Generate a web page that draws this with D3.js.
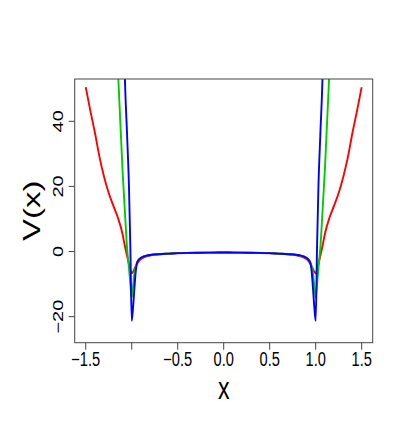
<!DOCTYPE html>
<html>
<head>
<meta charset="utf-8">
<script src="https://cdn.jsdelivr.net/npm/d3@7"></script>
<style>
  html, body { margin: 0; padding: 0; background: #fff; }
  svg { display: block; }
  text { font-family: "Liberation Sans", Arial, sans-serif; fill: #000; }
</style>
</head>
<body>
<script>
// ---- data ----
const xs = [-1.5,-1.45,-1.4,-1.35,-1.3,-1.25,-1.2,-1.15,-1.1,-1.075,-1.05,-1.03,-1.015,-1.0,-0.985,-0.97,-0.955,-0.94,-0.92,-0.9,-0.87,-0.84,-0.8,-0.7,-0.6,-0.5,-0.4,-0.3,-0.2,-0.1,0,
            0.1,0.2,0.3,0.4,0.5,0.6,0.7,0.8,0.84,0.87,0.9,0.92,0.94,0.955,0.97,0.985,1.0,1.015,1.03,1.05,1.075,1.1,1.15,1.2,1.25,1.3,1.35,1.4,1.45,1.5];

const redV = [50.5,43.3,36.5,29.0,22.9,18.0,14.1,10.4,5.4,1.8,-1.4,-3.9,-5.6,-6.7,-6.2,-5.3,-4.5,-3.7,-2.9,-2.3,-1.8,-1.5,-1.2,-0.9,-0.7,-0.55,-0.45,-0.4,-0.35,-0.3,-0.3,
              -0.3,-0.35,-0.4,-0.45,-0.55,-0.7,-0.9,-1.2,-1.5,-1.8,-2.3,-2.9,-3.7,-4.5,-5.3,-6.2,-6.7,-5.6,-3.9,-1.4,1.8,5.4,10.4,14.1,18.0,22.9,29.0,36.5,43.3,50.5];

const greenV = [420,330,260,205,160,122,90,56,25,12.7,0.8,-5.0,-10.0,-14.2,-10.5,-6.6,-4.4,-3.2,-2.4,-1.9,-1.5,-1.3,-1.05,-0.8,-0.65,-0.5,-0.42,-0.38,-0.34,-0.32,-0.3,
                -0.32,-0.34,-0.38,-0.42,-0.5,-0.65,-0.8,-1.05,-1.3,-1.5,-1.9,-2.4,-3.2,-4.4,-6.6,-10.5,-14.2,-10.0,-5.0,0.8,12.7,25,56,90,122,160,205,260,330,420];

const blueV = [2000,1500,1100,800,560,380,250,160,90,54,35.5,20,1.5,-21.3,-17.0,-11.0,-5.8,-3.3,-2.4,-1.9,-1.5,-1.25,-1.05,-0.8,-0.65,-0.5,-0.42,-0.38,-0.34,-0.32,-0.3,
               -0.32,-0.34,-0.38,-0.42,-0.5,-0.65,-0.8,-1.05,-1.25,-1.5,-1.9,-2.4,-3.3,-5.8,-11.0,-17.0,-21.3,1.5,20,35.5,54,90,160,250,380,560,800,1100,1500,2000];

const xTicks = [-1.5,-1.0,-0.5,0.0,0.5,1.0,1.5];
const xTickLabels = ["\u22121.5","","\u22120.5","0.0","0.5","1.0","1.5"];
const yTicks = [-20,0,20,40];
const yTickLabels = ["\u221220","0","20","40"];
const xLabel = "x";
const yLabel = "V(x)";

// ---- layout ----
const W = 409, H = 436;
const L = 74.7, R = 372.7, T = 79, B = 342.7;
const SQ = 0.75; // horizontal text squeeze seen in the reference

const x = d3.scaleLinear().domain([-1.62, 1.62]).range([L, R]);
const y = d3.scaleLinear().domain([-28, 53]).range([B, T]);

const svg = d3.select("body").append("svg").attr("width", W).attr("height", H);

svg.append("clipPath").attr("id", "plotclip")
  .append("rect").attr("x", L).attr("y", T).attr("width", R - L).attr("height", B - T);

const line = d3.line().x(d => x(d[0])).y(d => y(d[1])).curve(d3.curveMonotoneX);
const series = [
  {v: redV, c: "#ff0000"},
  {v: greenV, c: "#00cd00"},
  {v: blueV, c: "#0000ff"}
];
const g = svg.append("g").attr("clip-path", "url(#plotclip)");
series.forEach(s => {
  g.append("path")
    .datum(xs.map((xv, i) => [xv, s.v[i]]))
    .attr("d", line)
    .attr("fill", "none")
    .attr("stroke", s.c)
    .attr("stroke-width", 1.9)
    .attr("stroke-linejoin", "round");
});

// box
svg.append("rect").attr("x", L).attr("y", T).attr("width", R - L).attr("height", B - T)
  .attr("fill", "none").attr("stroke", "#444").attr("stroke-width", 1);

// x axis ticks
xTicks.forEach((t, i) => {
  svg.append("line").attr("x1", x(t)).attr("x2", x(t)).attr("y1", B).attr("y2", B + 7)
    .attr("stroke", "#444").attr("stroke-width", 1);
  if (xTickLabels[i]) {
    svg.append("text")
      .attr("transform", `translate(${x(t)},${366.2}) scale(${SQ},1)`)
      .attr("text-anchor", "middle").attr("font-size", 19.5)
      .text(xTickLabels[i]);
  }
});

// y axis ticks
yTicks.forEach((t, i) => {
  svg.append("line").attr("x1", L - 6).attr("x2", L).attr("y1", y(t)).attr("y2", y(t))
    .attr("stroke", "#444").attr("stroke-width", 1);
  svg.append("text")
    .attr("transform", `translate(${63.3},${y(t)}) scale(${SQ},1) rotate(-90)`)
    .attr("text-anchor", "middle").attr("font-size", 20)
    .text(yTickLabels[i]);
});

// axis labels
svg.append("text")
  .attr("transform", `translate(${(L + R) / 2},${398.5}) scale(${SQ},1)`)
  .attr("text-anchor", "middle").attr("font-size", 31)
  .text(xLabel);
svg.append("text")
  .attr("transform", `translate(${40},${(T + B) / 2}) scale(${SQ},1) rotate(-90)`)
  .attr("text-anchor", "middle").attr("font-size", 33)
  .text(yLabel);
</script>
</body>
</html>
